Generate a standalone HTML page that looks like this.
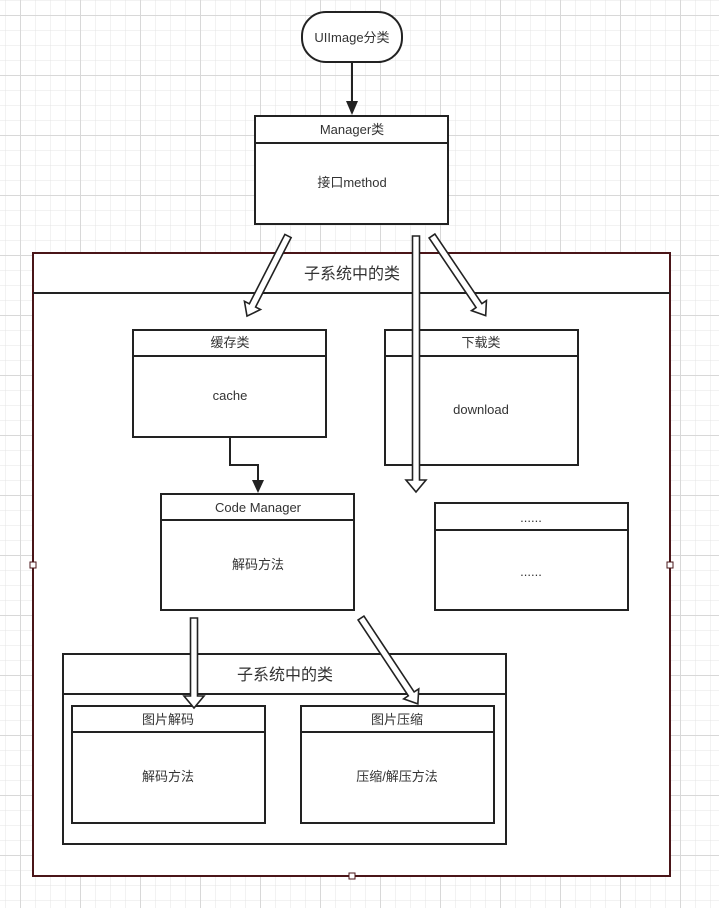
<!DOCTYPE html>
<html><head><meta charset="utf-8">
<style>
html,body{margin:0;padding:0;background:#fff;}
svg{display:block;}
text{font-family:"Liberation Sans","Noto Sans CJK SC",sans-serif;fill:#333;}
</style></head>
<body>
<svg width="719" height="908" viewBox="0 0 719 908" xmlns="http://www.w3.org/2000/svg">
<defs>
<pattern id="minor" x="5" y="0" width="15" height="15" patternUnits="userSpaceOnUse">
<path d="M0 0H15M0 0V15" stroke="#e4e4e4" stroke-width="1" fill="none"/>
</pattern>
<pattern id="major" x="20" y="15" width="60" height="60" patternUnits="userSpaceOnUse">
<path d="M0 0.5H60M0.5 0V60" stroke="#d8d8d8" stroke-width="1" fill="none"/>
</pattern>
</defs>
<rect width="719" height="908" fill="url(#minor)"/>
<rect width="719" height="908" fill="url(#major)"/>

<g fill="#fff" stroke="#222" stroke-width="2">
<rect x="33" y="253" width="637" height="623" stroke="#4a1518"/>
<line x1="33" y1="293" x2="670" y2="293" stroke="#222"/>
<rect x="302" y="12" width="100" height="50" rx="24"/>
<rect x="255" y="116" width="193" height="108"/>
<line x1="255" y1="143" x2="448" y2="143"/>
<rect x="133" y="330" width="193" height="107"/>
<line x1="133" y1="356" x2="326" y2="356"/>
<rect x="385" y="330" width="193" height="135"/>
<line x1="385" y1="356" x2="578" y2="356"/>
<rect x="161" y="494" width="193" height="116"/>
<line x1="161" y1="520" x2="354" y2="520"/>
<rect x="435" y="503" width="193" height="107"/>
<line x1="435" y1="530" x2="628" y2="530"/>
<rect x="63" y="654" width="443" height="190"/>
<line x1="63" y1="694" x2="506" y2="694"/>
<rect x="72" y="706" width="193" height="117"/>
<line x1="72" y1="732" x2="265" y2="732"/>
<rect x="301" y="706" width="193" height="117"/>
<line x1="301" y1="732" x2="494" y2="732"/>
</g>

<g fill="#fff" stroke="#4a1518" stroke-width="1">
<rect x="30" y="562" width="6" height="6"/>
<rect x="667" y="562" width="6" height="6"/>
<rect x="349" y="873" width="6" height="6"/>
</g>

<line x1="352" y1="62" x2="352" y2="103" stroke="#222" stroke-width="2"/>
<polygon points="346,101 358,101 352,115" fill="#222"/>
<polyline points="230,437 230,465 258,465 258,482" fill="none" stroke="#222" stroke-width="2"/>
<polygon points="252,480 264,480 258,493" fill="#222"/>

<g fill="#fff" stroke="#222" stroke-width="1.6" stroke-linejoin="miter">
<polygon transform="translate(288,236) rotate(117.1)" points="0,-3.5 78,-3.5 78,-9 90,0 78,9 78,3.5 0,3.5"/>
<polygon transform="translate(432,236) rotate(56)" points="0,-3.5 84,-3.5 84,-9 96,0 84,9 84,3.5 0,3.5"/>
<polygon transform="translate(416,236) rotate(90)" points="0,-3.5 244,-3.5 244,-10 256,0 244,10 244,3.5 0,3.5"/>
<polygon transform="translate(194,618) rotate(90)" points="0,-3.5 78,-3.5 78,-10 90,0 78,10 78,3.5 0,3.5"/>
<polygon transform="translate(361,618) rotate(56.5)" points="0,-3.5 91,-3.5 91,-9 103,0 91,9 91,3.5 0,3.5"/>
</g>

<g font-size="13" text-anchor="middle">
<text x="352" y="42">UIImage分类</text>
<text x="352" y="134">Manager类</text>
<text x="352" y="187">接口method</text>
<text x="352" y="279" font-size="16">子系统中的类</text>
<text x="230" y="347">缓存类</text>
<text x="230" y="400">cache</text>
<text x="481" y="347">下载类</text>
<text x="481" y="414">download</text>
<text x="258" y="512">Code Manager</text>
<text x="258" y="569">解码方法</text>
<text x="531" y="522">......</text>
<text x="531" y="576">......</text>
<text x="285" y="680" font-size="16">子系统中的类</text>
<text x="168" y="724">图片解码</text>
<text x="168" y="781">解码方法</text>
<text x="397" y="724">图片压缩</text>
<text x="397" y="781">压缩/解压方法</text>
</g>
</svg>
</body></html>
